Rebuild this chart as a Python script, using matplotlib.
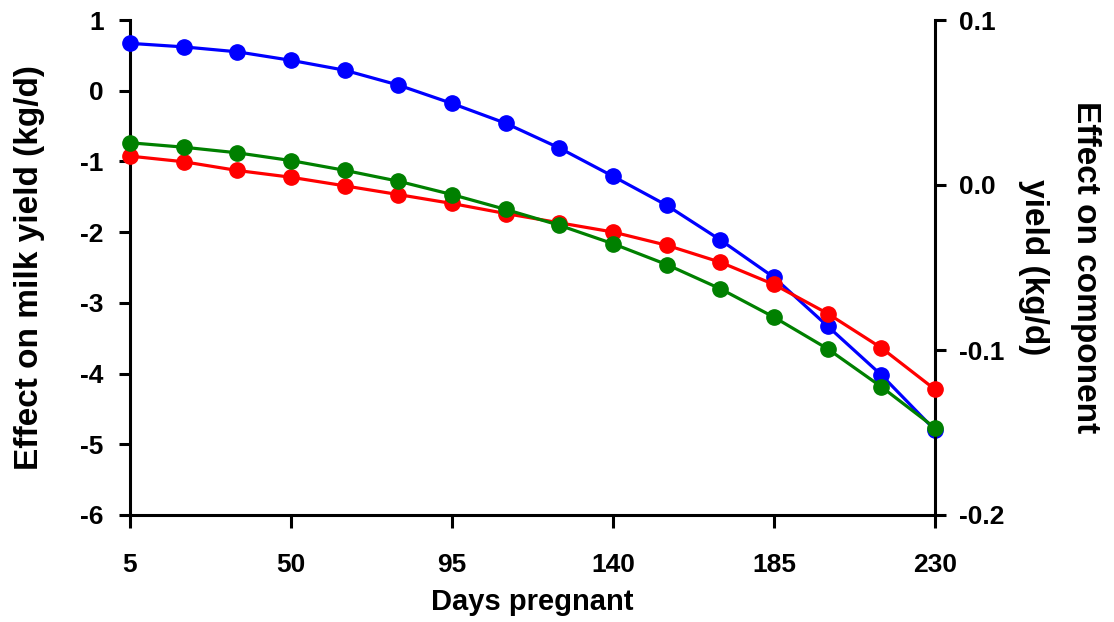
import matplotlib
matplotlib.use("Agg")
import matplotlib.pyplot as plt

plt.rcParams['font.family'] = ['Liberation Sans', 'DejaVu Sans']
plt.rcParams['font.weight'] = 'bold'
plt.rcParams['axes.unicode_minus'] = False

days = [5, 20, 35, 50, 65, 80, 95, 110, 125, 140, 155, 170, 185, 200, 215, 230]
# left axis (kg/d)
milk = [0.67, 0.62, 0.55, 0.43, 0.29, 0.08, -0.18, -0.46, -0.81, -1.21,
        -1.62, -2.11, -2.64, -3.33, -4.02, -4.80]
# right axis (kg/d)
comp_red = [0.0175, 0.0141, 0.0088, 0.0047, -0.0005, -0.0058, -0.0112, -0.0173,
            -0.0229, -0.0285, -0.0365, -0.0468, -0.0603, -0.0779, -0.0987, -0.1239]
comp_green = [0.0256, 0.0229, 0.0195, 0.0148, 0.0089, 0.0023, -0.0058, -0.0148,
              -0.0244, -0.0356, -0.0482, -0.0629, -0.0801, -0.0993, -0.1223, -0.1472]

xticks = [5, 50, 95, 140, 185, 230]
left_ticks = [1, 0, -1, -2, -3, -4, -5, -6]
right_ticks = [0.1, 0.0, -0.1, -0.2]

fig = plt.figure(figsize=(11.14, 6.22), dpi=100)
ax = fig.add_axes([130 / 1114, 1 - 515 / 622, (935 - 130) / 1114, (515 - 20) / 622])
ax2 = ax.twinx()

ax.plot(days, milk, color='#0000ff', lw=2.3, marker='o', ms=11, clip_on=False, zorder=3)
ax2.plot(days, comp_red, color='#ff0000', lw=2.3, marker='o', ms=11, clip_on=False, zorder=3)
ax2.plot(days, comp_green, color='#008000', lw=2.3, marker='o', ms=11, clip_on=False, zorder=4)

ax.set_xlim(5, 230)
ax.set_ylim(-6, 1)
ax2.set_ylim(-0.2, 0.1)

ax.set_xticks(xticks)
ax.set_yticks(left_ticks)
ax2.set_yticks(right_ticks)
ax2.set_yticklabels(['%.1f' % v for v in right_ticks])

for a in (ax, ax2):
    a.spines['top'].set_visible(False)
    for s in a.spines.values():
        s.set_linewidth(2.2)
ax.spines['right'].set_visible(False)
ax2.spines['left'].set_visible(False)
ax2.spines['bottom'].set_visible(False)

ax.tick_params(axis='y', length=8, width=2.2, pad=11, labelsize=19)
ax.tick_params(axis='x', length=9, width=2.2, pad=18, labelsize=19)
ax2.tick_params(axis='y', length=8, width=2.2, pad=9, labelsize=19)

ax.set_xlabel('Days pregnant', fontsize=21, fontweight='bold', labelpad=8)
ax.set_ylabel('Effect on milk yield (kg/d)', fontsize=24, fontweight='bold', labelpad=25)
ax2.set_ylabel('Effect on component\nyield (kg/d)', fontsize=24, fontweight='bold',
               rotation=270, labelpad=70, linespacing=1.9)

fig.savefig('out.png', dpi=100)
